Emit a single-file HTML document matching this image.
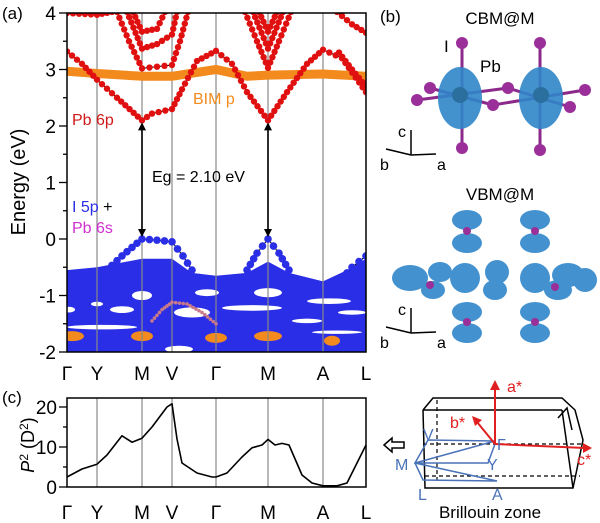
<!DOCTYPE html>
<html><head><meta charset="utf-8"><style>
body{margin:0;background:#fff}
svg{display:block;font-family:"Liberation Sans",sans-serif}
</style></head><body>
<svg id="fig" width="600" height="523" viewBox="0 0 600 523" xmlns="http://www.w3.org/2000/svg">
<g id="pa"></g>
<g id="pc"></g>
<g id="pb">
 <text x="380" y="22" font-size="17">(b)</text>
 <text x="500" y="24" font-size="17" text-anchor="middle">CBM@M</text>
 <g stroke="#8b2a8b" stroke-width="3">
  <line x1="462" y1="43" x2="462" y2="148"/><line x1="540" y1="43" x2="540" y2="150"/>
  <line x1="417" y1="100" x2="508" y2="88"/><line x1="430" y1="88" x2="493" y2="105"/>
  <line x1="493" y1="105" x2="585" y2="90"/><line x1="508" y1="88" x2="570" y2="107"/>
 </g>
 <ellipse cx="460" cy="98" rx="22" ry="31" fill="#2f86c9" opacity="0.9"/>
 <ellipse cx="541" cy="98" rx="22" ry="31" fill="#2f86c9" opacity="0.9"/>
 <circle cx="460" cy="95" r="8" fill="#2a6f9e"/><circle cx="541" cy="95" r="8" fill="#2a6f9e"/>
 <g fill="#9a2f9a">
  <circle cx="462" cy="43" r="6"/><circle cx="540" cy="43" r="6"/><circle cx="430" cy="88" r="6"/><circle cx="417" cy="100" r="6"/>
  <circle cx="508" cy="88" r="6"/><circle cx="493" cy="105" r="6"/><circle cx="585" cy="90" r="6"/><circle cx="570" cy="107" r="6"/>
  <circle cx="462" cy="148" r="6"/><circle cx="540" cy="150" r="6"/>
 </g>
 <text x="444" y="52" font-size="17">I</text>
 <text x="480" y="72" font-size="17">Pb</text>
 <g stroke="#000" stroke-width="1.5" fill="none">
  <line x1="411" y1="155" x2="411" y2="130"/><line x1="411" y1="155" x2="386" y2="149"/><line x1="411" y1="155" x2="436" y2="154"/>
 </g>
 <text x="398" y="137" font-size="16">c</text><text x="380" y="170" font-size="16">b</text><text x="437" y="170" font-size="16">a</text>
 <text x="500" y="200" font-size="17" text-anchor="middle">VBM@M</text>
 <g fill="#2f86c9" opacity="0.9">
  <ellipse cx="467" cy="220" rx="15" ry="10"/><ellipse cx="467" cy="243" rx="15" ry="10"/>
  <ellipse cx="535" cy="220" rx="15" ry="10"/><ellipse cx="535" cy="243" rx="15" ry="10"/>
  <ellipse cx="467" cy="312" rx="15" ry="10"/><ellipse cx="467" cy="333" rx="15" ry="10"/>
  <ellipse cx="535" cy="312" rx="15" ry="10"/><ellipse cx="535" cy="333" rx="15" ry="10"/>
  <ellipse cx="410" cy="278" rx="18" ry="13"/><ellipse cx="440" cy="272" rx="12" ry="10"/><ellipse cx="433" cy="290" rx="12" ry="9"/>
  <ellipse cx="497" cy="272" rx="12" ry="12"/><ellipse cx="495" cy="290" rx="12" ry="10"/>
  <ellipse cx="568" cy="275" rx="16" ry="12"/><ellipse cx="558" cy="290" rx="14" ry="10"/><ellipse cx="585" cy="280" rx="12" ry="12"/>
  <circle cx="465" cy="278" r="15"/><circle cx="535" cy="278" r="15"/>
 </g>
 <g fill="#9a2f9a"><circle cx="467" cy="231" r="4"/><circle cx="535" cy="231" r="4"/><circle cx="467" cy="322" r="4"/><circle cx="535" cy="322" r="4"/><circle cx="430" cy="285" r="4"/><circle cx="555" cy="287" r="4"/></g>
 <g stroke="#000" stroke-width="1.5" fill="none">
  <line x1="411" y1="333" x2="411" y2="308"/><line x1="411" y1="333" x2="386" y2="327"/><line x1="411" y1="333" x2="436" y2="332"/>
 </g>
 <text x="398" y="315" font-size="16">c</text><text x="380" y="348" font-size="16">b</text><text x="437" y="348" font-size="16">a</text>
</g>
<g id="bz">
 <g stroke="#000" stroke-width="1.5" fill="none">
  <polyline points="423,410 433,398 562,398 575,410 583,440 573,488 425,488 423,410"/>
  <line x1="423" y1="410" x2="562" y2="410"/><line x1="562" y1="410" x2="573" y2="488"/>
  <polyline points="558,418 567,408 572,430"/>
 </g>
 <g stroke="#000" stroke-width="1.2" fill="none" stroke-dasharray="4,3">
  <line x1="437" y1="400" x2="437" y2="483"/><line x1="423" y1="444" x2="583" y2="444"/><line x1="425" y1="476" x2="580" y2="476"/>
 </g>
 <g stroke="#4a72b8" stroke-width="1.5" fill="none">
  <polyline points="495,444 488,463 415,463 428,440 495,441 415,463 423,480 497,481 415,463"/>
 </g>
 <g stroke="#e02020" stroke-width="2" fill="#e02020">
  <line x1="495" y1="444" x2="495" y2="388"/><polygon points="490,390 500,390 495,380" stroke="none"/>
  <line x1="495" y1="444" x2="477" y2="422"/><polygon points="472,416 482,420 475,426" stroke="none"/>
  <line x1="495" y1="444" x2="585" y2="448"/><polygon points="592,448 583,443 583,453" stroke="none"/>
 </g>
 <text x="507" y="392" font-size="16" fill="#e02020">a*</text>
 <text x="450" y="428" font-size="16" fill="#e02020">b*</text>
 <text x="577" y="465" font-size="16" fill="#e02020">c*</text>
 <g font-size="16" fill="#4a72b8">
  <text x="497" y="450">Γ</text><text x="487" y="470">Y</text><text x="395" y="470">M</text>
  <text x="423" y="440">V</text><text x="418" y="500">L</text><text x="492" y="500">A</text>
 </g>
 <polygon points="384,445 392,438 392,442 404,442 404,448 392,448 392,452" fill="#fff" stroke="#000" stroke-width="1.5"/>
 <text x="490" y="518" font-size="17" text-anchor="middle">Brillouin zone</text>
</g>
</svg>
<script>
const kLabels = ["Γ","Y","M","V","Γ","M","A","L"];
const kTicks = [0,30,75,105,149,201,256,299];
const eTicks = [-2,-1,0,1,2,3,4];
const pTicks = [0,10,20];
const cb1 = [[0,3.32],[15,3.1],[30,2.82],[50,2.5],[75,2.1],[85,2.22],[105,2.3],[115,2.65],[130,3.15],[149,3.33],[165,3.1],[180,2.6],[201,2.1],[220,2.6],[240,3.1],[256,3.35],[275,3.2],[299,2.6]];
const cb2 = [[50,4.02],[62,3.5],[75,3.02],[90,3.05],[105,3.08],[113,3.5],[121,4.02]];
const cb3 = [[60,4.02],[75,3.37],[90,3.45],[105,3.62],[110,4.02]];
const cb4 = [[66,4.02],[75,3.67],[90,3.72],[98,4.02]];
const cb5 = [[0,4.0],[30,3.97],[45,4.02]];
const cb6 = [[178,4.02],[190,3.5],[201,3.03],[212,3.5],[224,4.02]];
const cb7 = [[186,4.02],[201,3.37],[216,4.02]];
const cb8 = [[192,4.02],[201,3.67],[210,4.02]];
const cb9 = [[270,4.02],[285,3.8],[299,3.65]];
const cb10 = [[272,3.3],[285,3.0],[299,2.7]];
const bim = [[0,2.97],[30,2.93],[75,2.88],[105,2.88],[149,3.0],[180,2.88],[201,2.9],[256,2.92],[299,2.88]];
const vb1 = [[40,-0.55],[55,-0.3],[75,0.0],[90,-0.02],[105,-0.05],[116,-0.3],[125,-0.55]];
const vb2 = [[180,-0.55],[190,-0.25],[201,0.0],[212,-0.25],[222,-0.55]];
const vb3 = [[270,-0.8],[285,-0.5],[299,-0.3]];
const vbArc = [[85,-1.45],[95,-1.25],[105,-1.12],[120,-1.15],[135,-1.3],[149,-1.5]];
const vbTop = [[0,-0.55],[30,-0.5],[75,-0.35],[105,-0.35],[125,-0.6],[149,-0.65],[180,-0.6],[201,-0.4],[222,-0.6],[256,-0.75],[280,-0.55],[299,-0.35]];
const holes = [[2,-1.25,6,0.05],[30,-1.15,6,0.04],[75,-1.0,10,0.08],[55,-1.25,12,0.06],[35,-1.56,35,0.04],[125,-1.3,18,0.09],[140,-0.95,12,0.06],[201,-0.95,14,0.08],[185,-1.22,30,0.05],[262,-1.1,22,0.05],[285,-1.3,14,0.04],[112,-1.95,14,0.06],[270,-1.65,25,0.03],[240,-1.45,15,0.04]];
const bimBlobs = [[5,-1.72,12],[75,-1.72,11],[149,-1.75,11],[201,-1.72,14],[265,-1.8,8]];
const pk = [0,15,30,40,55,65,75,85,100,105,110,115,130,145,149,160,175,185,195,201,208,215,222,235,245,256,270,280,290,299];
const pv = [2.5,4.5,5.7,8,12.8,11.2,12.2,15,20,20.8,12,6,3.5,2.5,2.5,3.5,7.5,9.8,10.5,11.9,10.5,10.9,10.5,3,1,0.3,0.3,1,6,10.5];

const NS="http://www.w3.org/2000/svg";
function mk(p,t,a){const e=document.createElementNS(NS,t);for(const k in a)e.setAttribute(k,a[k]);p.appendChild(e);return e;}
const X0=67,X1=366,KMAX=299;
const xk=k=>X0+(X1-X0)*k/KMAX;
const yE=E=>239-56.5*E;
const yP=v=>487-4*v;
const pa=document.getElementById('pa'), pc=document.getElementById('pc');

const defs=mk(document.getElementById('fig'),'defs',{});
const cp=mk(defs,'clipPath',{id:'clipA'});mk(cp,'rect',{x:X0,y:yE(4),width:X1-X0,height:yE(-2)-yE(4)});
const ga=mk(pa,'g',{'clip-path':'url(#clipA)'});
let d='M'+xk(0)+','+yE(-2.1);
vbTop.forEach(p=>d+=' L'+xk(p[0])+','+yE(p[1]));
d+=' L'+xk(KMAX)+','+yE(-2.1)+'Z';
const vm=mk(ga,'path',{d:d,fill:'#2a2ee6'});


holes.forEach(h=>{
 const e=mk(ga,'ellipse',{cx:xk(h[0]),cy:yE(h[1]),rx:(X1-X0)*h[2]/KMAX,ry:56.5*h[3],fill:'#fff'});
 
 
});
bimBlobs.forEach(b=>{
 const e=mk(ga,'ellipse',{cx:xk(b[0]),cy:yE(b[1]),rx:(X1-X0)*b[2]/KMAX,ry:5,fill:'#f28a1e'});
 
 
});
kTicks.slice(1,-1).forEach(k=>mk(ga,'line',{x1:xk(k),x2:xk(k),y1:yE(4),y2:yE(-2),stroke:'#888','stroke-width':1.2}));
function band(arr,color,r,name,lw,noline){
 const g=mk(ga,'g',{});
 
 
 const pts=arr.map(p=>[xk(p[0]),yE(p[1])]);
 if(!noline) mk(g,'polyline',{points:pts.map(p=>p.join(',')).join(' '),fill:'none',stroke:lw?color:'#000','stroke-width':lw||1});
 for(let i=0;i<pts.length-1;i++){
  const [ax,ay]=pts[i],[bx,by]=pts[i+1];const L=Math.hypot(bx-ax,by-ay);const n=Math.max(1,Math.round(L/(r*1.9)));
  for(let j=0;j<n;j++){const t=j/n;mk(g,'circle',{cx:ax+(bx-ax)*t,cy:ay+(by-ay)*t,r:r,fill:color});}
 }
 const l=pts[pts.length-1];mk(g,'circle',{cx:l[0],cy:l[1],r:r,fill:color});
}
band(vbArc,'#c87a8a',1.8,'bim-arc',0,true);
band(bim,'#f28a1e',4,'bim-p-band',9);
[cb1,cb2,cb3,cb4,cb5,cb6,cb7,cb8,cb9,cb10].forEach(b=>band(b,'#e01010',3.2,'pb6p-band'));
[vb1,vb2,vb3].forEach(b=>band(b,'#2a2ee6',3.8,'vbm-band'));
mk(pa,'rect',{x:X0,y:yE(4),width:X1-X0,height:yE(-2)-yE(4),fill:'none',stroke:'#000','stroke-width':1.5});
for(let v=-2;v<=4;v+=0.5){const maj=Number.isInteger(v);mk(pa,'line',{x1:X0-(maj?8:4),x2:X0,y1:yE(v),y2:yE(v),stroke:'#000','stroke-width':1.3});}
eTicks.forEach(v=>{const t=mk(pa,'text',{x:X0-11,y:yE(v)+7,'font-size':19,'text-anchor':'end'});t.textContent=v;
 });
kLabels.forEach((s,i)=>{const t=mk(pa,'text',{x:xk(kTicks[i]),y:380,'font-size':19,'text-anchor':'middle'});t.textContent=s;
 });
let t;
t=mk(pa,'text',{x:0,y:0,'font-size':20,'text-anchor':'middle',transform:'translate(25,182) rotate(-90)'});t.textContent='Energy (eV)';

t=mk(pa,'text',{x:2,y:19,'font-size':17});t.textContent='(a)';

t=mk(pa,'text',{x:72,y:125,'font-size':16,fill:'#d01818'});t.textContent='Pb 6p';

t=mk(pa,'text',{x:193,y:104,'font-size':16,fill:'#f28a1e'});t.textContent='BIM p';

t=mk(pa,'text',{x:72,y:212,'font-size':16,fill:'#2a2ee6'});t.innerHTML='I 5p <tspan fill="#000">+</tspan>';

t=mk(pa,'text',{x:72,y:233,'font-size':16,fill:'#d030d0'});t.textContent='Pb 6s';

t=mk(pa,'text',{x:152,y:182,'font-size':16});t.textContent='Eg = 2.10 eV';

[75,201].forEach(k=>{const x=xk(k);const g=mk(pa,'g',{});
 
 mk(g,'line',{x1:x,x2:x,y1:yE(2.1)+8,y2:yE(0)-8,stroke:'#000','stroke-width':1.6});
 mk(g,'polygon',{points:`${x-4},${yE(2.1)+10} ${x+4},${yE(2.1)+10} ${x},${yE(2.1)+2}`});
 mk(g,'polygon',{points:`${x-4},${yE(0)-10} ${x+4},${yE(0)-10} ${x},${yE(0)-2}`});});

kTicks.slice(1,-1).forEach(k=>mk(pc,'line',{x1:xk(k),x2:xk(k),y1:398,y2:487,stroke:'#888','stroke-width':1.2}));
const cl=mk(pc,'polyline',{points:pk.map((k,i)=>xk(k)+','+yP(pv[i])).join(' '),fill:'none',stroke:'#000','stroke-width':1.6,'stroke-linejoin':'round'});

mk(pc,'rect',{x:X0,y:398,width:X1-X0,height:89,fill:'none',stroke:'#000','stroke-width':1.5});
for(let v=0;v<=20;v+=5){const maj=v%10===0;mk(pc,'line',{x1:X0-(maj?8:4),x2:X0,y1:yP(v),y2:yP(v),stroke:'#000','stroke-width':1.3});}
pTicks.forEach(v=>{const t=mk(pc,'text',{x:X0-10,y:yP(v)+7,'font-size':19,'text-anchor':'end'});t.textContent=v;
 });
kLabels.forEach((s,i)=>{const t=mk(pc,'text',{x:xk(kTicks[i]),y:519,'font-size':19,'text-anchor':'middle'});t.textContent=s;
 });
t=mk(pc,'text',{x:0,y:0,'font-size':18,'text-anchor':'middle',transform:'translate(34,445) rotate(-90)'});
t.innerHTML='<tspan font-style="italic">P</tspan><tspan dy="-6" font-size="12">2</tspan><tspan dy="6"> (D</tspan><tspan dy="-6" font-size="12">2</tspan><tspan dy="6">)</tspan>';

t=mk(pc,'text',{x:2,y:403,'font-size':17});t.textContent='(c)';

</script>
</body></html>
